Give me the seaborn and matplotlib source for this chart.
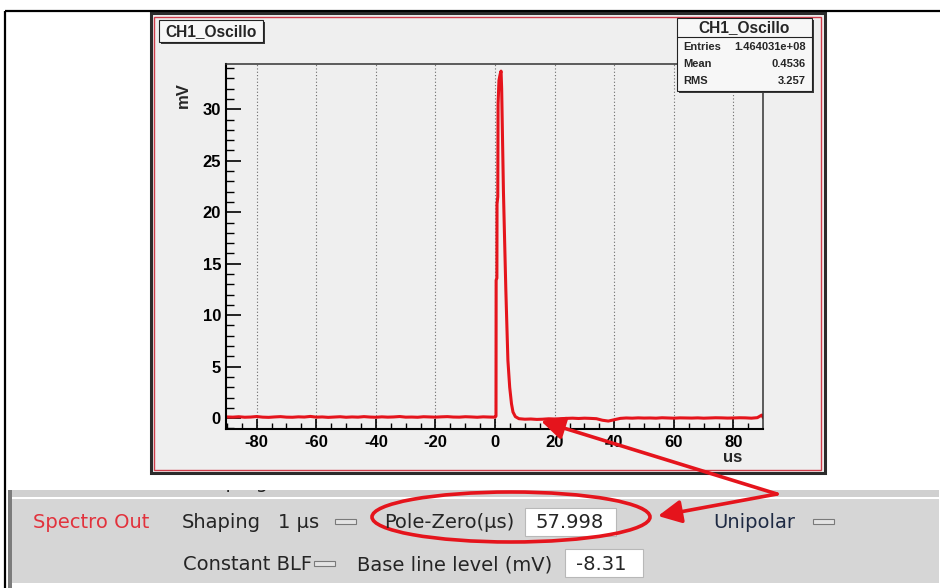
import matplotlib
matplotlib.use("Agg")
import matplotlib.pyplot as plt
from matplotlib.patches import Rectangle, Ellipse, FancyArrowPatch
from matplotlib.ticker import MultipleLocator
import pandas as pd
import seaborn as sns

# Channel 1 oscilloscope trace: time (us) and amplitude (mV)
time_us = [-90, -88, -86, -84, -82, -80, -78, -76, -74, -72, -70, -68, -66, -64,
           -62, -60, -58, -56, -54, -52, -50, -48, -46, -44, -42, -40, -38, -36,
           -34, -32, -30, -28, -26, -24, -22, -20, -18, -16, -14, -12, -10, -8,
           -6, -4, -2, 0, 0.3, 0.35, 0.6, 0.65, 0.9, 1.0, 1.3, 1.7, 2.0, 2.2,
           2.5, 2.8, 3.2, 3.6, 3.9, 4.3, 4.9, 5.5, 6.0, 6.8, 8, 10, 12, 14, 16,
           18, 20, 22, 24, 26, 28, 30, 32, 34, 36, 38, 40, 42, 44, 46, 48, 50,
           52, 54, 56, 58, 60, 62, 64, 66, 68, 70, 72, 74, 76, 78, 80, 82, 84,
           86, 88, 89.5, 90]
signal_mv = [0.12, 0.10, 0.14, 0.09, 0.11, 0.16, 0.10, 0.08, 0.12, 0.15, 0.10,
             0.09, 0.13, 0.11, 0.17, 0.10, 0.12, 0.08, 0.11, 0.14, 0.09, 0.12,
             0.10, 0.15, 0.11, 0.09, 0.13, 0.10, 0.12, 0.16, 0.10, 0.11, 0.09,
             0.14, 0.12, 0.10, 0.13, 0.15, 0.11, 0.10, 0.14, 0.12, 0.09, 0.13,
             0.11, 0.10, 0.20, 13.4, 13.6, 20.8, 21.5, 30.5, 32.8, 33.4, 33.7,
             32.0, 27.0, 22.0, 17.2, 12.5, 9.5, 5.6, 3.0, 1.4, 0.6, 0.15, -0.05,
             -0.10, -0.08, -0.12, -0.10, -0.06, -0.08, -0.05, -0.02, 0.00, -0.03,
             0.00, -0.02, -0.05, -0.20, -0.28, -0.15, -0.02, 0.02, 0.00, 0.03,
             0.01, 0.02, 0.00, 0.04, 0.02, 0.00, 0.03, 0.02, 0.01, 0.03, 0.00,
             0.02, 0.04, 0.03, 0.01, 0.02, 0.04, 0.03, 0.00, 0.05, 0.30, 0.05]

x_ticks = [-80, -60, -40, -20, 0, 20, 40, 60, 80]
y_ticks = [0, 5, 10, 15, 20, 25, 30]
hist_name = "CH1_Oscillo"
stat_labels = ["Entries", "Mean", "RMS"]
stat_values = ["1.464031e+08", "0.4536", "3.257"]
x_title = "us"
y_title = "mV"

sns.set_style("white")
plt.rcParams["font.family"] = ["DejaVu Sans"]

W, H = 941, 588
fig = plt.figure(figsize=(W / 100, H / 100), dpi=100, facecolor="white")


def px_axes(left, top, right, bottom, **kw):
    return fig.add_axes([left / W, 1 - bottom / H, (right - left) / W,
                         (bottom - top) / H], **kw)


def overlay(z):
    a = fig.add_axes([0, 0, 1, 1], zorder=z)
    a.set_xlim(0, W)
    a.set_ylim(H, 0)
    a.axis("off")
    a.patch.set_alpha(0)
    return a


bg = overlay(0)
fg = overlay(5)

ROOT_FONT = "Liberation Sans"
RED = "#e5141c"
TXT = "#252525"

# page frame
bg.plot([5, 940], [11, 11], color="black", lw=1.6, solid_capstyle="butt")
bg.plot([5, 5], [11, 588], color="black", lw=1.6, solid_capstyle="butt")

# ROOT canvas
bg.add_patch(Rectangle((151, 12.5), 674, 460.5, facecolor="#efefef",
                       edgecolor="#2b2b2b", lw=2.2))
bg.add_patch(Rectangle((154.5, 16.5), 667, 453, facecolor="none",
                       edgecolor="#cf3c4a", lw=1.0))

# control panel strip (upper row is scrolled out of view)
bg.add_patch(Rectangle((8, 490), 4, 98, facecolor="#7c7c7c", lw=0))
bg.add_patch(Rectangle((12, 490), 927, 7, facecolor="#d0d0d0", lw=0))
bg.add_patch(Rectangle((12, 499), 927, 84, facecolor="#d6d6d6", lw=0))
strip = Rectangle((12, 490), 927, 7, transform=bg.transData)
hidden = bg.text(190, 487.5, "Shaping", fontsize=14, color=TXT,
                 ha="left", va="baseline", clip_on=True)
hidden.set_clip_path(strip)

# oscilloscope histogram
ax = px_axes(226, 63.5, 763, 429.3, zorder=2)
ax.set_facecolor("#efefef")
df = pd.DataFrame({"t": time_us, "v": signal_mv})
sns.lineplot(data=df, x="t", y="v", ax=ax, color=RED, lw=2.2,
             estimator=None, sort=False)
ax.set_xlim(-90.3, 89.9)
ax.set_ylim(-1.08, 34.44)
ax.set_xlabel("")
ax.set_ylabel("")
ax.set_xticks(x_ticks, labels=[str(v) for v in x_ticks],
              fontfamily=ROOT_FONT, fontweight="bold", fontsize=12)
ax.set_yticks(y_ticks, labels=[str(v) for v in y_ticks],
              fontfamily=ROOT_FONT, fontweight="bold", fontsize=12)
ax.xaxis.set_minor_locator(MultipleLocator(5))
ax.yaxis.set_minor_locator(MultipleLocator(1))
ax.tick_params(axis="y", which="major", direction="in", length=10.8,
               width=1.2, left=True, right=False, pad=3.6, colors="black")
ax.tick_params(axis="y", which="minor", direction="in", length=5.4,
               width=1.0, left=True, right=False, color="black")
ax.tick_params(axis="x", which="major", direction="in", length=7.2,
               width=1.2, bottom=True, top=False, pad=4.3, colors="black")
ax.tick_params(axis="x", which="minor", direction="in", length=4.3,
               width=1.0, bottom=True, top=False, color="black")
ax.grid(False)
ax.grid(axis="x", which="major", ls=(0, (1, 2)), color="#6a6a6a", lw=0.8)
for side in ("left", "bottom"):
    ax.spines[side].set_color("black")
    ax.spines[side].set_linewidth(1.5)
for side in ("top", "right"):
    ax.spines[side].set_color("#333333")
    ax.spines[side].set_linewidth(1.1)

# axis titles
fg.text(183, 95, y_title, rotation=90, ha="center", va="center",
        fontsize=12, fontweight="bold", family=ROOT_FONT)
fg.text(733, 458, x_title, ha="center", va="center",
        fontsize=12, fontweight="bold", family=ROOT_FONT)

# title pave
fg.add_patch(Rectangle((161, 22), 104, 22, facecolor="#3a3a3a", lw=0))
fg.add_patch(Rectangle((159, 20), 104, 22, facecolor="#f7f7f7",
                       edgecolor="#222222", lw=0.8))
fg.text(211, 31.5, hist_name, ha="center", va="center", fontsize=11.2,
        fontweight="bold", family=ROOT_FONT)

# statistics box
fg.add_patch(Rectangle((679, 20), 135, 73, facecolor="#3a3a3a", lw=0))
fg.add_patch(Rectangle((677, 18), 135, 73, facecolor="#f7f7f7",
                       edgecolor="#222222", lw=0.8))
fg.plot([677, 812], [37, 37], color="#222222", lw=0.8)
fg.text(744.5, 27.5, hist_name, ha="center", va="center", fontsize=11.2,
        fontweight="bold", family=ROOT_FONT)
for lab, val, yy in zip(stat_labels, stat_values, [46.5, 64, 81.5]):
    fg.text(683, yy, lab, ha="left", va="center", fontsize=8,
            fontweight="bold", family=ROOT_FONT)
    fg.text(806, yy, val, ha="right", va="center", fontsize=8,
            fontweight="bold", family=ROOT_FONT)


# panel widgets
def button(x, y):
    fg.add_patch(Rectangle((x, y), 21, 5, facecolor="#e4e4e4",
                           edgecolor="#7a7a7a", lw=0.8))


def entry(x, y, w, h, text):
    fg.add_patch(Rectangle((x, y), w, h, facecolor="white",
                           edgecolor="#b8b8b8", lw=0.8))
    fg.text(x + 11, y + h / 2 + 1, text, ha="left", va="center",
            fontsize=14, color=TXT)


row1, row2 = 522, 565
fg.text(33, row1, "Spectro Out", ha="left", va="center", fontsize=14,
        color="#e2323c")
fg.text(182, row1, "Shaping", ha="left", va="center", fontsize=14, color=TXT)
fg.text(278, row1, "1 µs", ha="left", va="center", fontsize=14, color=TXT)
button(335, 519)
fg.text(384, row1, "Pole-Zero(µs)", ha="left", va="center", fontsize=14,
        color=TXT)
entry(525, 508, 91, 28, "57.998")
fg.text(713, row1, "Unipolar", ha="left", va="center", fontsize=14,
        color="#1e2a44")
button(813, 519)
fg.text(183, row2, "Constant BLF", ha="left", va="center", fontsize=14,
        color=TXT)
button(314, 561)
fg.text(357, row2, "Base line level (mV)", ha="left", va="center",
        fontsize=14, color=TXT)
entry(565, 549, 78, 28, "-8.31")

# annotation: ellipse and arrows
fg.add_patch(Ellipse((511, 517), 278, 50, facecolor="none", edgecolor=RED,
                     lw=2.6))
for tip in [(541, 421), (658, 516)]:
    fg.add_patch(FancyArrowPatch((777, 494), tip,
                                 arrowstyle="-|>,head_length=1.0,head_width=0.5",
                                 mutation_scale=14, color=RED, lw=2.6,
                                 shrinkA=0, shrinkB=0))

fig.savefig("out.png", dpi=100, facecolor="white")
